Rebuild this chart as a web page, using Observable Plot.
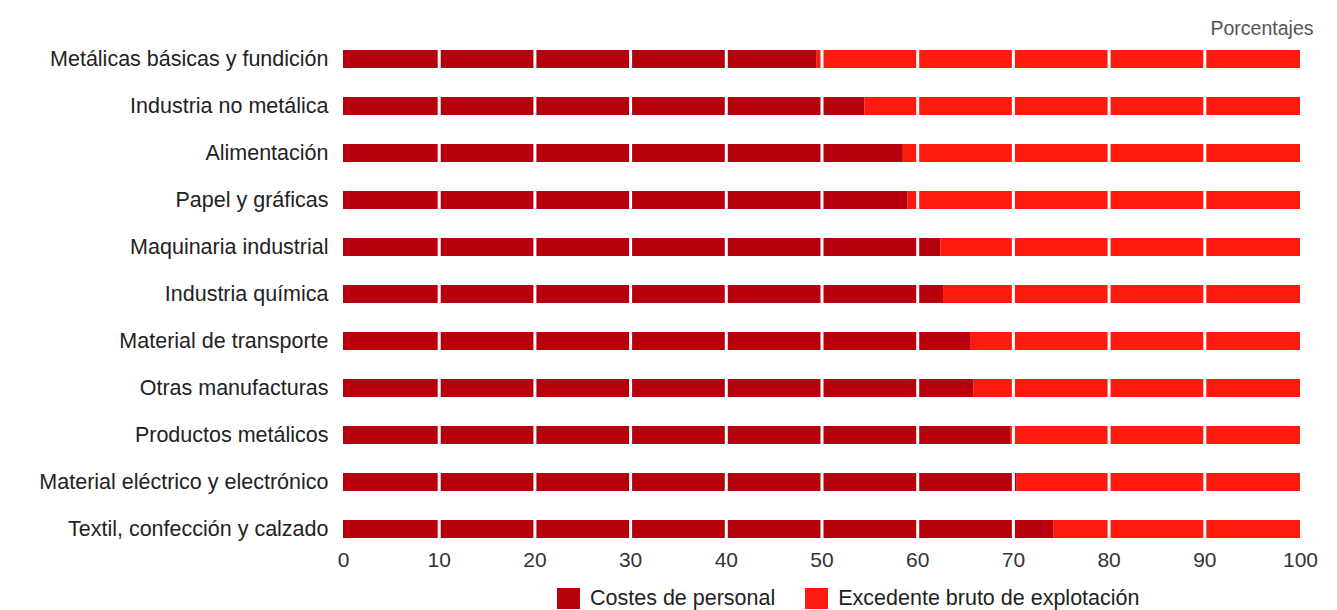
<!DOCTYPE html>
<html>
<head>
<meta charset="utf-8">
<script src="https://cdn.jsdelivr.net/npm/d3@7"></script>
<script src="https://cdn.jsdelivr.net/npm/@observablehq/plot@0.6"></script>
<style>
  body { margin: 0; background: #fff; font-family: "Liberation Sans", Arial, sans-serif; }
  #legend { height: 28px; display: flex; align-items: center; font-size: 21.5px; color: #222; padding-left: 557px; margin-top: 4px; }
  .sw { display: inline-block; width: 23px; height: 21px; margin-right: 10px; }
  .item { display: flex; align-items: center; margin-right: 30px; }
</style>
</head>
<body>
<div id="chart"></div>
<div id="legend"></div>
<script>
const categories = [
  "Metálicas básicas y fundición",
  "Industria no metálica",
  "Alimentación",
  "Papel y gráficas",
  "Maquinaria industrial",
  "Industria química",
  "Material de transporte",
  "Otras manufacturas",
  "Productos metálicos",
  "Material eléctrico y electrónico",
  "Textil, confección y calzado"
];
const costesPersonal = [49.5, 54.5, 58.5, 59.0, 62.4, 62.7, 65.6, 65.9, 69.7, 70.4, 74.2];
const excedenteBruto = [50.5, 45.5, 41.5, 41.0, 37.6, 37.3, 34.4, 34.1, 30.3, 29.6, 25.8];
const seriesNames = ["Costes de personal", "Excedente bruto de explotación"];
const seriesColors = ["#b6000e", "#ff1a10"];
const xTicks = [0, 10, 20, 30, 40, 50, 60, 70, 80, 90, 100];
const gridLines = [10, 20, 30, 40, 50, 60, 70, 80, 90];
const unitLabel = ["Porcentajes"];

const rows = [];
categories.forEach((c, i) => {
  rows.push({cat: c, serie: seriesNames[0], value: costesPersonal[i]});
  rows.push({cat: c, serie: seriesNames[1], value: excedenteBruto[i]});
});

const chart = Plot.plot({
  width: 1337,
  height: 580,
  marginLeft: 343,
  marginRight: 37,
  marginTop: 18,
  marginBottom: 42,
  style: {fontFamily: '"Liberation Sans", Arial, sans-serif', fontSize: "20px", color: "#222", background: "#fff", overflow: "visible"},
  x: {domain: [0, 100], ticks: xTicks, tickSize: 0, label: null},
  y: {domain: categories, range: [33.35, 553.65], paddingInner: 0.62, paddingOuter: 0.31, label: null, tickSize: 0},
  color: {domain: seriesNames, range: seriesColors},
  marks: [
    Plot.barX(rows, Plot.stackX({y: "cat", x: "value", fill: "serie", order: seriesNames})),
    Plot.ruleX(gridLines, {x: d => d, stroke: "#fff", strokeWidth: 3}),
    Plot.axisX({ticks: xTicks, tickSize: 0, tickPadding: 14, fontSize: 21, fill: "#333", label: null}),
    Plot.axisY({tickSize: 0, tickPadding: 15, fontSize: 21.5, fill: "#222", label: null}),
    Plot.text(unitLabel, {text: d => d, frameAnchor: "top-right", textAnchor: "end", lineAnchor: "top", dx: 13, dy: 3, fontSize: 19.5, fill: "#555"})
  ]
});
document.getElementById("chart").appendChild(chart);

const leg = document.getElementById("legend");
seriesNames.forEach((n, i) => {
  const it = document.createElement("div");
  it.className = "item";
  const sw = document.createElement("span");
  sw.className = "sw";
  sw.style.background = seriesColors[i];
  it.appendChild(sw);
  it.appendChild(document.createTextNode(n));
  leg.appendChild(it);
});
</script>
</body>
</html>
